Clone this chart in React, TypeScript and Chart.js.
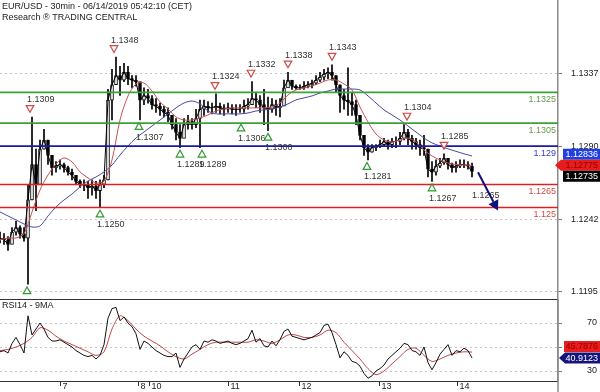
import React, { useEffect, useRef } from 'react';
import { Chart, registerables } from 'chart.js';
Chart.register(...registerables);

const FONT = '"Liberation Sans", Arial, sans-serif';

// ---- price samples (one sample per time step) ----
const priceHigh = [
  1.1234, 1.1233, 1.1231, 1.1237, 1.1241, 1.1238, 1.1237, 1.1265, 1.1309, 1.1288,
  1.1294, 1.1301, 1.1294, 1.1281, 1.1280, 1.1281, 1.1279, 1.1277, 1.1275, 1.1271,
  1.1268, 1.1268, 1.1267, 1.1268, 1.1267, 1.1268, 1.1271, 1.1327, 1.1340, 1.1348,
  1.1342, 1.1344, 1.1342, 1.1336, 1.1336, 1.1327, 1.1328, 1.1327, 1.1323, 1.1321,
  1.1318, 1.1316, 1.1315, 1.1310, 1.1308, 1.1304, 1.1308, 1.1310, 1.1308, 1.1314,
  1.1320, 1.1320, 1.1319, 1.1318, 1.1324, 1.1318, 1.1317, 1.1318, 1.1317, 1.1317,
  1.1317, 1.1320, 1.1321, 1.1332, 1.1325, 1.1323, 1.1327, 1.1322, 1.1321, 1.1320,
  1.1321, 1.1333, 1.1338, 1.1332, 1.1330, 1.1330, 1.1332, 1.1332, 1.1333, 1.1336,
  1.1338, 1.1340, 1.1341, 1.1343, 1.1336, 1.1330, 1.1327, 1.1341, 1.1325, 1.1320,
  1.1310, 1.1297, 1.1291, 1.1291, 1.1291, 1.1294, 1.1295, 1.1294, 1.1295, 1.1296,
  1.1299, 1.1304, 1.1301, 1.1297, 1.1295, 1.1294, 1.1297, 1.1288, 1.1280, 1.1281,
  1.1282, 1.1285, 1.1282, 1.1279, 1.1280, 1.1281, 1.1281, 1.1280, 1.1279,
];
const priceLow = [
  1.1227, 1.1226, 1.1222, 1.1228, 1.1232, 1.1230, 1.1228, 1.1200, 1.1255, 1.1248,
  1.1268, 1.1288, 1.1278, 1.1271, 1.1273, 1.1275, 1.1273, 1.1271, 1.1268, 1.1265,
  1.1263, 1.1261, 1.1256, 1.1258, 1.1256, 1.1250, 1.1263, 1.1268, 1.1307, 1.1330,
  1.1323, 1.1332, 1.1330, 1.1328, 1.1329, 1.1307, 1.1317, 1.1318, 1.1314, 1.1312,
  1.1310, 1.1309, 1.1306, 1.1301, 1.1294, 1.1289, 1.1298, 1.1301, 1.1301, 1.1302,
  1.1289, 1.1310, 1.1312, 1.1311, 1.1312, 1.1311, 1.1310, 1.1312, 1.1311, 1.1310,
  1.1312, 1.1312, 1.1314, 1.1317, 1.1315, 1.1312, 1.1304, 1.1300, 1.1312, 1.1310,
  1.1309, 1.1320, 1.1330, 1.1327, 1.1327, 1.1327, 1.1327, 1.1328, 1.1328, 1.1330,
  1.1332, 1.1333, 1.1334, 1.1333, 1.1325, 1.1312, 1.1314, 1.1310, 1.1310, 1.1304,
  1.1294, 1.1284, 1.1281, 1.1286, 1.1287, 1.1289, 1.1290, 1.1288, 1.1289, 1.1289,
  1.1291, 1.1294, 1.1291, 1.1288, 1.1288, 1.1284, 1.1284, 1.1270, 1.1267, 1.1271,
  1.1276, 1.1278, 1.1275, 1.1273, 1.1273, 1.1276, 1.1276, 1.1275, 1.1270,
];
const priceClose = [
  1.1230, 1.1229, 1.1226, 1.1234, 1.1237, 1.1233, 1.1230, 1.1255, 1.1278, 1.1265,
  1.1288, 1.1294, 1.1284, 1.1276, 1.1277, 1.1278, 1.1276, 1.1273, 1.1271, 1.1267,
  1.1265, 1.1265, 1.1263, 1.1264, 1.1261, 1.1265, 1.1268, 1.1320, 1.1330, 1.1336,
  1.1333, 1.1338, 1.1334, 1.1333, 1.1332, 1.1320, 1.1323, 1.1321, 1.1317, 1.1316,
  1.1314, 1.1312, 1.1310, 1.1304, 1.1299, 1.1295, 1.1304, 1.1306, 1.1304, 1.1308,
  1.1314, 1.1316, 1.1315, 1.1315, 1.1316, 1.1315, 1.1314, 1.1315, 1.1314, 1.1314,
  1.1314, 1.1316, 1.1317, 1.1321, 1.1320, 1.1317, 1.1315, 1.1314, 1.1317, 1.1315,
  1.1316, 1.1328, 1.1333, 1.1329, 1.1328, 1.1328, 1.1329, 1.1330, 1.1331, 1.1333,
  1.1335, 1.1337, 1.1338, 1.1336, 1.1330, 1.1323, 1.1320, 1.1319, 1.1317, 1.1310,
  1.1297, 1.1289, 1.1286, 1.1289, 1.1290, 1.1291, 1.1293, 1.1291, 1.1293, 1.1293,
  1.1295, 1.1299, 1.1295, 1.1293, 1.1291, 1.1289, 1.1288, 1.1275, 1.1273, 1.1277,
  1.1279, 1.1282, 1.1278, 1.1276, 1.1277, 1.1278, 1.1278, 1.1277, 1.12735,
];

// ---- moving averages (one value every MA_STEP samples) ----
const MA_STEP = 2;
const maFast = [
  1.12289, 1.12302, 1.12302, 1.12328, 1.12471, 1.12614, 1.12712, 1.12784, 1.12823, 1.12797,
  1.12732, 1.12693, 1.12660, 1.12673, 1.12810, 1.13070, 1.13227, 1.13305, 1.13311, 1.13259,
  1.13188, 1.13142, 1.13090, 1.13070, 1.13070, 1.13083, 1.13103, 1.13129, 1.13142, 1.13149,
  1.13149, 1.13149, 1.13149, 1.13149, 1.13155, 1.13181, 1.13233, 1.13266, 1.13279, 1.13292,
  1.13311, 1.13331, 1.13331, 1.13305, 1.13266, 1.13155, 1.13057, 1.12979, 1.12940, 1.12927,
  1.12940, 1.12953, 1.12927, 1.12875, 1.12836, 1.12810, 1.12790, 1.12780, 1.12777, 1.12775,
];
const maSlow = [
  1.12471, 1.12445, 1.12419, 1.12393, 1.12373, 1.12380, 1.12445, 1.12504, 1.12549, 1.12588,
  1.12634, 1.12673, 1.12699, 1.12732, 1.12777, 1.12842, 1.12901, 1.12953, 1.12992, 1.13031,
  1.13070, 1.13110, 1.13149, 1.13181, 1.13194, 1.13175, 1.13129, 1.13110, 1.13110, 1.13110,
  1.13110, 1.13116, 1.13129, 1.13136, 1.13142, 1.13155, 1.13175, 1.13201, 1.13214, 1.13227,
  1.13246, 1.13259, 1.13272, 1.13272, 1.13272, 1.13266, 1.13227, 1.13181, 1.13136, 1.13103,
  1.13070, 1.13031, 1.12992, 1.12953, 1.12921, 1.12901, 1.12882, 1.12866, 1.12850, 1.12836,
];

// ---- RSI ----
const rsi = [
  46, 47, 45, 53, 58, 52, 45, 76, 60, 65,
  70, 65, 58, 55, 55, 56, 54, 52, 50, 47,
  45, 43, 42, 43, 40, 43, 52, 74, 82, 83,
  72, 75, 70, 67, 61, 48, 55, 53, 50, 47,
  45, 43, 42, 42, 45, 33, 40, 45, 50, 52,
  48, 55, 54, 56, 55, 53, 54, 55, 53, 52,
  53, 55, 57, 64, 54, 57, 51, 50, 55, 51,
  56, 63, 65, 59, 58, 57, 56, 57, 58, 60,
  62, 68, 69, 62, 52, 41, 46, 43, 38, 37,
  34, 28, 24, 26, 30, 32, 35, 40, 43, 46,
  49, 53, 52, 47, 46, 43, 50, 37, 31, 37,
  44, 48, 52, 43, 47, 46, 49, 47, 40.9123,
];
const rsiMa = [
  47, 48, 50, 53, 58, 66, 64, 59, 55, 52,
  49, 46, 43, 46, 65, 76, 72, 65, 59, 55,
  51, 46, 42, 40, 44, 48, 52, 54, 54, 54,
  54, 54, 56, 55, 53, 56, 60, 60, 58, 58,
  60, 64, 62, 54, 47, 40, 32, 27, 30, 36,
  42, 48, 49, 43, 38, 40, 43, 45, 46, 45.7876,
];

// ---- axes ----
const X_MAX = 139.5;
const P_MIN = 1.11904;
const P_MAX = 1.13852;
const RSI_MIN = 21.67;
const RSI_MAX = 90;
const priceTicks = [1.1337, 1.129, 1.1242, 1.1195];
const rsiTicks = [30, 50, 70];
const dayTickPos = [15, 34.5, 37.25, 57, 74.75, 94.75, 114.25];
const dayTickLabels = ['7', '8', '10', '11', '12', '13', '14'];

// ---- support / resistance ----
const levelValues = [1.1325, 1.1305, 1.129, 1.1265, 1.125];
const levelColors = ['#3aa23a', '#3aa23a', '#1a1aa8', '#e02020', '#e02020'];
const levelTextColors = ['#6a9a4a', '#6a9a4a', '#3a3ac0', '#d04a4a', '#d04a4a'];

// ---- swing markers (time index, value) ----
const swingHighX = [7.5, 28.5, 53.75, 62.75, 72, 83, 101.75, 111];
const swingHighV = [1.1309, 1.1348, 1.1324, 1.1332, 1.1338, 1.1343, 1.1304, 1.1285];
const swingLowX = [6.75, 25, 34.75, 45, 50.5, 60.25, 67, 91.75, 108];
const swingLowV = [1.12, 1.125, 1.1307, 1.1289, 1.1289, 1.1306, 1.13, 1.1281, 1.1267];

// ---- projection ----
const projX = [119.5, 124.5];
const projV = [1.1273, 1.1248];
const projLabelX = 118;
const projLabelV = 1.1265;

// ---- last-value boxes ----
const priceBoxValues = [1.12836, 1.12775, 1.12735];
const priceBoxBg = ['#1f3fe0', '#e81c1c', '#000000'];
const priceBoxFg = ['#ffffff', '#8a0000', '#ffffff'];
const priceBoxAnchor = 1;
const rsiBoxValues = [45.7876, 40.9123];
const rsiBoxBg = ['#e81c1c', '#14147a'];
const rsiBoxFg = ['#8a0000', '#ffffff'];
const rsiBoxAnchor = 1;

function layoutBoxes(ys: number[], anchor: number, h: number) {
  const out = ys.slice();
  for (let j = anchor - 1; j >= 0; j--) out[j] = Math.min(out[j], out[j + 1] - h);
  for (let j = anchor + 1; j < out.length; j++) out[j] = Math.max(out[j], out[j - 1] + h);
  return out;
}

function drawBox(ctx: any, left: number, yc: number, text: string, bg: string, fg: string, arrow: boolean) {
  const h = 11;
  const right = 600;
  ctx.save();
  ctx.fillStyle = bg;
  ctx.beginPath();
  if (arrow) {
    ctx.moveTo(left - 6, yc);
    ctx.lineTo(left, yc - h / 2);
    ctx.lineTo(right, yc - h / 2);
    ctx.lineTo(right, yc + h / 2);
    ctx.lineTo(left, yc + h / 2);
    ctx.closePath();
  } else {
    ctx.rect(left, yc - h / 2, right - left, h);
  }
  ctx.fill();
  ctx.fillStyle = fg;
  ctx.font = `9px ${FONT}`;
  ctx.textAlign = 'right';
  ctx.textBaseline = 'middle';
  ctx.fillText(text, right - 2, yc + 0.5);
  ctx.restore();
}

function tri(ctx: any, x: number, y: number, down: boolean, stroke: string) {
  const w = 3.8, h = 3.4;
  ctx.beginPath();
  if (down) {
    ctx.moveTo(x - w, y - h);
    ctx.lineTo(x + w, y - h);
    ctx.lineTo(x, y + h);
  } else {
    ctx.moveTo(x - w, y + h);
    ctx.lineTo(x + w, y + h);
    ctx.lineTo(x, y - h);
  }
  ctx.closePath();
  ctx.fillStyle = 'rgba(255,255,255,0.85)';
  ctx.fill();
  ctx.strokeStyle = stroke;
  ctx.lineWidth = 1.2;
  ctx.stroke();
}

const priceOverlay = {
  id: 'priceOverlay',
  afterDatasetsDraw(chart: any) {
    const { ctx, chartArea } = chart;
    const xs = chart.scales.x;
    const ys = chart.scales.y;
    ctx.save();
    ctx.font = `9px ${FONT}`;
    ctx.textBaseline = 'middle';
    ctx.textAlign = 'right';
    levelValues.forEach((v, k) => {
      ctx.fillStyle = levelTextColors[k];
      ctx.fillText(String(v), chartArea.right - 2, ys.getPixelForValue(v) + 7);
    });
    ctx.textAlign = 'left';
    swingHighX.forEach((xv, k) => {
      const px = xs.getPixelForValue(xv);
      const py = ys.getPixelForValue(swingHighV[k]);
      tri(ctx, px, py - 8, true, '#d04848');
      ctx.fillStyle = '#333';
      ctx.fillText(swingHighV[k].toFixed(4), px - 3, py - 17);
    });
    swingLowX.forEach((xv, k) => {
      const px = xs.getPixelForValue(xv);
      const py = ys.getPixelForValue(swingLowV[k]);
      tri(ctx, px, py + 6, false, '#2f9a2f');
      if (py + 21 < chartArea.bottom) {
        ctx.fillStyle = '#333';
        ctx.fillText(swingLowV[k].toFixed(4), px - 3, py + 17);
      }
    });
    ctx.fillStyle = '#333';
    ctx.fillText(projLabelV.toFixed(4), xs.getPixelForValue(projLabelX), ys.getPixelForValue(projLabelV) + 11);
    const x0 = xs.getPixelForValue(projX[0]);
    const y0 = ys.getPixelForValue(projV[0]);
    const x1 = xs.getPixelForValue(projX[1]);
    const y1 = ys.getPixelForValue(projV[1]);
    const ang = Math.atan2(y1 - y0, x1 - x0);
    const hl = 10, hw = 5.5;
    const bx = x1 - hl * Math.cos(ang), by = y1 - hl * Math.sin(ang);
    ctx.strokeStyle = '#10107a';
    ctx.lineWidth = 2;
    ctx.beginPath();
    ctx.moveTo(x0, y0);
    ctx.lineTo(bx, by);
    ctx.stroke();
    ctx.fillStyle = '#10107a';
    ctx.beginPath();
    ctx.moveTo(x1, y1);
    ctx.lineTo(bx + hw * Math.sin(ang), by - hw * Math.cos(ang));
    ctx.lineTo(bx - hw * Math.sin(ang), by + hw * Math.cos(ang));
    ctx.closePath();
    ctx.fill();
    ctx.fillStyle = '#222';
    ctx.textAlign = 'left';
    ctx.fillText('EUR/USD - 30min - 06/14/2019 05:42:10 (CET)', 2, 7);
    ctx.fillText('Research \u00ae TRADING CENTRAL', 2, 17.5);
    ctx.restore();
  },
  afterDraw(chart: any) {
    const { ctx } = chart;
    const ys = chart.scales.y;
    const pos = layoutBoxes(priceBoxValues.map((v) => ys.getPixelForValue(v)), priceBoxAnchor, 11);
    priceBoxValues.forEach((v, k) => {
      const arrow = k === priceBoxAnchor;
      drawBox(ctx, arrow ? 561 : 563, pos[k], v.toFixed(5), priceBoxBg[k], priceBoxFg[k], arrow);
    });
  },
};

const rsiOverlay = {
  id: 'rsiOverlay',
  afterDatasetsDraw(chart: any) {
    const { ctx, chartArea, height } = chart;
    const xs = chart.scales.x;
    ctx.save();
    ctx.strokeStyle = '#333';
    ctx.lineWidth = 1;
    ctx.beginPath();
    ctx.moveTo(0, chartArea.top + 0.5);
    ctx.lineTo(chartArea.right, chartArea.top + 0.5);
    ctx.moveTo(0, chartArea.bottom + 0.5);
    ctx.lineTo(chartArea.right, chartArea.bottom + 0.5);
    ctx.stroke();
    ctx.strokeStyle = '#8a8a8a';
    ctx.lineWidth = 1.5;
    ctx.beginPath();
    ctx.moveTo(chartArea.right, chartArea.top);
    ctx.lineTo(chartArea.right, height);
    ctx.stroke();
    ctx.font = `9px ${FONT}`;
    ctx.textBaseline = 'middle';
    ctx.textAlign = 'left';
    ctx.fillStyle = '#222';
    ctx.fillText('RSI14 - 9MA', 2, 6.5);
    ctx.strokeStyle = '#333';
    ctx.lineWidth = 1;
    dayTickPos.forEach((p, k) => {
      const px = Math.round(xs.getPixelForValue(p)) + 0.5;
      ctx.beginPath();
      ctx.moveTo(px, chartArea.bottom);
      ctx.lineTo(px, chartArea.bottom + 5);
      ctx.stroke();
      ctx.fillText(dayTickLabels[k], px + 2, chartArea.bottom + 6);
    });
    ctx.restore();
  },
  afterDraw(chart: any) {
    const { ctx } = chart;
    const ys = chart.scales.y;
    const pos = layoutBoxes(rsiBoxValues.map((v) => ys.getPixelForValue(v)), rsiBoxAnchor, 11.5);
    rsiBoxValues.forEach((v, k) => {
      const arrow = k === rsiBoxAnchor;
      drawBox(ctx, arrow ? 565 : 564, pos[k], v.toFixed(4), rsiBoxBg[k], rsiBoxFg[k], arrow);
    });
  },
};

function priceConfig(): any {
  const wickData = priceHigh.map((h, i) => ({ x: i, y: [priceLow[i], h] }));
  const bodyData = priceClose.map((c, i) => ({ x: i, y: [i === 0 ? c : priceClose[i - 1], c] }));
  const bodyBg = priceClose.map((c, i) => (i > 0 && c < priceClose[i - 1] ? '#000' : '#fff'));
  const closeData = priceClose.map((c, i) => ({ x: i, y: c }));
  const fastData = maFast.map((v, k) => ({ x: k * MA_STEP, y: v }));
  const slowData = maSlow.map((v, k) => ({ x: k * MA_STEP, y: v }));
  const levelSets = levelValues.map((v, k) => ({
    type: 'line',
    data: [{ x: 0, y: v }, { x: X_MAX, y: v }],
    borderColor: levelColors[k],
    borderWidth: 1.6,
    pointRadius: 0,
    order: 0,
  }));
  return {
    type: 'bar',
    data: {
      datasets: [
        ...levelSets,
        { type: 'line', data: fastData, borderColor: '#c85050', borderWidth: 1, pointRadius: 0, tension: 0.3, order: 1 },
        { type: 'line', data: slowData, borderColor: '#4a4aa0', borderWidth: 1, pointRadius: 0, tension: 0.3, order: 1 },
        { type: 'line', data: closeData, borderColor: '#000', borderWidth: 1, pointRadius: 0, order: 2 },
        { type: 'bar', data: bodyData, backgroundColor: bodyBg, borderColor: '#000', borderWidth: 1, borderSkipped: false, barThickness: 3, grouped: false, order: 3 },
        { type: 'bar', data: wickData, backgroundColor: '#000', borderWidth: 0, barThickness: 1, grouped: false, order: 4 },
      ],
    },
    options: {
      animation: false,
      responsive: false,
      devicePixelRatio: 1,
      layout: { padding: 0 },
      plugins: { legend: { display: false }, tooltip: { enabled: false } },
      events: [],
      scales: {
        x: { type: 'linear', display: false, min: 0, max: X_MAX, offset: false },
        y: {
          position: 'right',
          min: P_MIN,
          max: P_MAX,
          afterBuildTicks: (s: any) => { s.ticks = priceTicks.map((v) => ({ value: v })); },
          afterFit: (s: any) => { s.width = 42; s.paddingTop = 0; s.paddingBottom = 0; },
          ticks: { callback: (v: any) => Number(v).toFixed(4), font: { family: FONT, size: 9 }, color: '#222', padding: 9, crossAlign: 'near' },
          grid: { color: '#c4c4c4', tickColor: '#777', tickLength: 4, tickBorderDash: [] },
          border: { display: true, color: '#8a8a8a', width: 1.5, dash: [2, 3] },
        },
      },
    },
    plugins: [priceOverlay],
  };
}

function rsiConfig(): any {
  const rsiData = rsi.map((v, i) => ({ x: i, y: v }));
  const maData = rsiMa.map((v, k) => ({ x: k * MA_STEP, y: v }));
  return {
    type: 'line',
    data: {
      datasets: [
        { data: maData, borderColor: '#c04848', borderWidth: 1, pointRadius: 0, tension: 0.3, order: 1 },
        { data: rsiData, borderColor: '#111', borderWidth: 1, pointRadius: 0, order: 0 },
      ],
    },
    options: {
      animation: false,
      responsive: false,
      devicePixelRatio: 1,
      layout: { padding: { left: 0, top: 0, right: 3, bottom: 11 } },
      plugins: { legend: { display: false }, tooltip: { enabled: false } },
      events: [],
      scales: {
        x: { type: 'linear', display: false, min: 0, max: X_MAX, offset: false },
        y: {
          position: 'right',
          min: RSI_MIN,
          max: RSI_MAX,
          afterBuildTicks: (s: any) => { s.ticks = rsiTicks.map((v) => ({ value: v })); },
          afterFit: (s: any) => { s.width = 39; s.paddingTop = 0; s.paddingBottom = 0; },
          ticks: { callback: (v: any) => String(v), font: { family: FONT, size: 9 }, color: '#222', crossAlign: 'far' },
          grid: { color: '#c4c4c4', tickColor: '#777', tickLength: 4, tickBorderDash: [] },
          border: { display: true, color: '#8a8a8a', width: 1.5, dash: [2, 3] },
        },
      },
    },
    plugins: [rsiOverlay],
  };
}

export default function App() {
  const priceRef = useRef<HTMLCanvasElement>(null);
  const rsiRef = useRef<HTMLCanvasElement>(null);
  useEffect(() => {
    document.body.style.margin = '0';
    const c1 = new Chart(priceRef.current as HTMLCanvasElement, priceConfig());
    const c2 = new Chart(rsiRef.current as HTMLCanvasElement, rsiConfig());
    return () => {
      c1.destroy();
      c2.destroy();
    };
  }, []);
  return (
    <div style={{ position: 'fixed', left: 0, top: 0, width: 600, height: 392, background: '#fff' }}>
      <canvas ref={priceRef} width={600} height={299} style={{ display: 'block', width: 600, height: 299 }} />
      <canvas ref={rsiRef} width={600} height={93} style={{ display: 'block', width: 600, height: 93 }} />
    </div>
  );
}
